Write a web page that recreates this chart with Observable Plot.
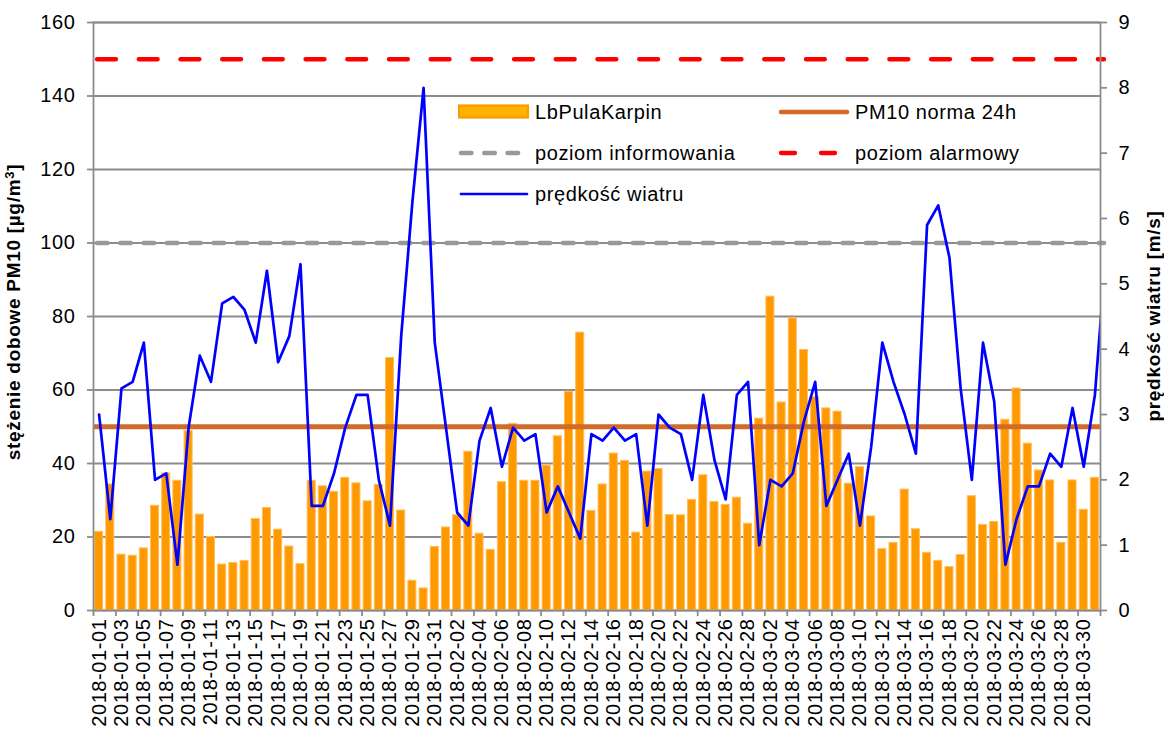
<!DOCTYPE html>
<html><head><meta charset="utf-8">
<script src="https://cdn.jsdelivr.net/npm/d3@7"></script>
<script src="https://cdn.jsdelivr.net/npm/@observablehq/plot@0.6"></script>
<style>
body{margin:0;background:#fff;font-family:"Liberation Sans",Arial,sans-serif;color:#000;}
#wrap{position:relative;width:1164px;height:733px;overflow:hidden;}
.leg{position:absolute;font-size:20px;letter-spacing:0.6px;line-height:20px;white-space:nowrap;}
.leg svg{position:absolute;}
.ttl{position:absolute;font-weight:bold;font-size:19px;letter-spacing:0.7px;white-space:nowrap;transform:translate(-50%,-50%) rotate(-90deg);}
</style></head><body><div id="wrap"></div>
<script>
// categories: daily dates 2018-01-01 .. 2018-04-01 (last one is clipped at the right edge)
const dates = d3.utcDay.range(new Date(Date.UTC(2018,0,1)), new Date(Date.UTC(2018,3,2))).map(d3.utcFormat("%Y-%m-%d"));
// PM10 daily concentration [µg/m³], station LbPulaKarpin
const pm10 = [
  21.4,34.3,15.2,14.9,16.9,28.5,37.3,35.3,48.8,26.1,20.0,12.5,12.9,13.5,24.9,27.9,22.0,17.4,12.6,35.3,33.8,32.3,36.1,34.6,29.7,34.2,68.7,27.2,8.1,6.0,17.3,
  22.6,25.9,43.2,20.9,16.5,34.9,50.8,35.3,35.3,39.4,47.4,59.5,75.6,27.1,34.3,42.7,40.7,21.2,37.8,38.5,26.0,25.9,30.1,36.8,29.5,28.7,30.7,23.6,
  52.2,85.4,56.6,79.5,70.9,58.0,55.0,54.1,34.5,39.0,25.6,16.7,18.4,32.9,22.1,15.7,13.5,11.8,15.1,31.1,23.3,24.1,51.9,60.4,45.4,38.1,35.4,18.4,35.4,27.4,36.1,
  17.6
];
// wind speed [m/s]
const wind = [
  3.0,1.4,3.4,3.5,4.1,2.0,2.1,0.7,2.8,3.9,3.5,4.7,4.8,4.6,4.1,5.2,3.8,4.2,5.3,1.6,1.6,2.1,2.8,3.3,3.3,2.0,1.3,4.2,6.25,8.0,4.1,
  2.8,1.5,1.3,2.6,3.1,2.2,2.8,2.6,2.7,1.5,1.9,1.5,1.1,2.7,2.6,2.8,2.6,2.7,1.3,3.0,2.8,2.7,2.0,3.3,2.3,1.7,3.3,3.5,
  1.0,2.0,1.9,2.1,2.9,3.5,1.6,2.0,2.4,1.3,2.5,4.1,3.5,3.0,2.4,5.9,6.2,5.4,3.4,2.0,4.1,3.2,0.7,1.4,1.9,1.9,2.4,2.2,3.1,2.2,3.3,
  5.5
];
const norma24h = 50, poziomInformowania = 100, poziomAlarmowy = 150;
const leftTicks = [0,20,40,60,80,100,120,140,160];
const rightTicks = [0,1,2,3,4,5,6,7,8,9];
const nDays = 90; // visible categories
const labelIdx = d3.range(0, nDays, 2);
const boundaryIdx = d3.range(0, nDays + 1, 2);

const K = 160 / 9; // right axis (0-9 m/s) onto left axis (0-160)
const rows = dates.map((d, i) => ({i, date: d, pm: pm10[i], wind: wind[i]}));

const COL = {bar: "#FF9900", barEdge: "#FFBE5C", norma: "#D26A28", info: "#999999", alarm: "#FF0000", wind: "#0000FF", grid: "#8C8C8C"};

const plot = Plot.plot({
  width: 1164, height: 733,
  marginLeft: 93, marginRight: 64, marginTop: 22, marginBottom: 123,
  style: {fontFamily: "'Liberation Sans', Arial, sans-serif", fontSize: "20px", letterSpacing: "0.6px", color: "#000", background: "transparent", overflow: "visible"},
  x: {type: "linear", domain: [0, nDays], axis: null},
  y: {domain: [0, 160], axis: null},
  marks: [
    Plot.ruleY(leftTicks, {stroke: COL.grid, strokeWidth: 1.8}),
    Plot.rectY(rows, {x1: d => d.i + 0.14, x2: d => d.i + 0.86, y1: 0, y2: "pm", fill: COL.bar, stroke: COL.barEdge, strokeWidth: 1, clip: true}),
    Plot.ruleY([norma24h], {stroke: COL.norma, strokeWidth: 5}),
    Plot.ruleY([poziomInformowania], {x1: 0, x2: nDays, stroke: COL.info, strokeWidth: 4.5, strokeDasharray: "10.5,12.8", strokeLinecap: "round", dx: 4}),
    Plot.ruleY([poziomAlarmowy], {x1: 0, x2: nDays, stroke: COL.alarm, strokeWidth: 4.3, strokeDasharray: "19,22.7", strokeLinecap: "round", dx: 4}),
    Plot.lineY(rows, {x: d => d.i + 0.5, y: d => d.wind * K, stroke: COL.wind, strokeWidth: 2.7, clip: true}),
    Plot.frame({stroke: COL.grid, strokeWidth: 1.8}),
    Plot.axisY(leftTicks, {anchor: "left", tickSize: 6, tickPadding: 12, stroke: COL.grid, strokeWidth: 1.8, fill: "#000", label: null}),
    Plot.axisY(rightTicks.map(v => v * K), {anchor: "right", tickSize: 6, tickPadding: 12, stroke: COL.grid, strokeWidth: 1.8, fill: "#000", tickFormat: v => String(Math.round(v / K)), label: null}),
    Plot.axisX(boundaryIdx, {anchor: "bottom", tickSize: 6, stroke: COL.grid, strokeWidth: 1.8, tickFormat: () => "", label: null}),
    Plot.axisX(labelIdx.map(i => i + 0.5), {anchor: "bottom", tickSize: 0, tickPadding: 8, tickRotate: -90, fill: "#000", tickFormat: v => dates[Math.round(v - 0.5)], label: null})
  ]
});
const wrap = document.getElementById("wrap");
wrap.appendChild(plot);

// legend (inside the plot area)
const legendItems = [
  {label: "LbPulaKarpin", kind: "bar", x: 458, y: 111.5},
  {label: "PM10 norma 24h", kind: "solid", color: COL.norma, w: 4.5, x: 778, y: 111.5},
  {label: "poziom informowania", kind: "dash", color: COL.info, w: 4.5, dash: "10.5,12.8", x: 458, y: 153},
  {label: "poziom alarmowy", kind: "dash", color: COL.alarm, w: 4.3, dash: "14,26", x: 778, y: 153},
  {label: "prędkość wiatru", kind: "solid", color: COL.wind, w: 2.7, x: 458, y: 194}
];
for (const it of legendItems) {
  const div = document.createElement("div");
  div.className = "leg";
  div.style.left = it.x + "px";
  div.style.top = (it.y - 10) + "px";
  let sw;
  if (it.kind === "bar") {
    sw = `<svg width="72" height="20" style="left:0;top:0"><rect x="1" y="3.5" width="69" height="12" fill="#FFB300" stroke="${COL.bar}" stroke-width="2.2"/></svg>`;
  } else {
    sw = `<svg width="74" height="20" style="left:0;top:0"><line x1="3" x2="69" y1="10" y2="10" stroke="${it.color}" stroke-width="${it.w}" stroke-linecap="round" ${it.kind === "dash" ? `stroke-dasharray="${it.dash}"` : ""}/></svg>`;
  }
  div.innerHTML = sw + `<span style="position:absolute;left:77px;top:0">${it.label}</span>`;
  wrap.appendChild(div);
}
// axis titles
const t1 = document.createElement("div");
t1.className = "ttl"; t1.style.left = "13px"; t1.style.top = "312px";
t1.innerHTML = "stężenie dobowe PM10 [µg/m<sup style='font-size:13px;vertical-align:6px'>3</sup>]";
wrap.appendChild(t1);
const t2 = document.createElement("div");
t2.className = "ttl"; t2.style.left = "1154px"; t2.style.top = "316px";
t2.textContent = "prędkość wiatru [m/s]";
wrap.appendChild(t2);
</script></body></html>
